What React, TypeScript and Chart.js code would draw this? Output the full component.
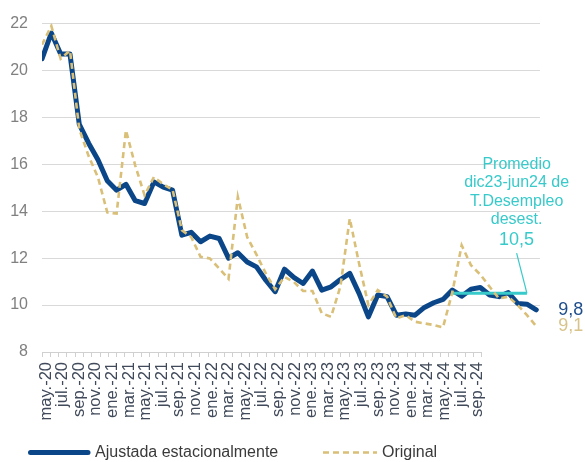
import React, { useEffect, useRef } from "react";
import { Chart, registerables } from "chart.js";

Chart.register(...registerables);

// Months of the data series (abr.-20 .. sep.-24)
const months = [
  "abr.-20", "may.-20", "jun.-20", "jul.-20", "ago.-20", "sep.-20", "oct.-20", "nov.-20", "dic.-20",
  "ene.-21", "feb.-21", "mar.-21", "abr.-21", "may.-21", "jun.-21", "jul.-21", "ago.-21", "sep.-21", "oct.-21", "nov.-21", "dic.-21",
  "ene.-22", "feb.-22", "mar.-22", "abr.-22", "may.-22", "jun.-22", "jul.-22", "ago.-22", "sep.-22", "oct.-22", "nov.-22", "dic.-22",
  "ene.-23", "feb.-23", "mar.-23", "abr.-23", "may.-23", "jun.-23", "jul.-23", "ago.-23", "sep.-23", "oct.-23", "nov.-23", "dic.-23",
  "ene.-24", "feb.-24", "mar.-24", "abr.-24", "may.-24", "jun.-24", "jul.-24", "ago.-24", "sep.-24",
];

// Ajustada estacionalmente
const ajustada = [
  20.5, 21.6, 20.7, 20.7, 17.7, 16.9, 16.2, 15.3, 14.9,
  15.15, 14.45, 14.33, 15.25, 15.03, 14.9, 12.98, 13.1, 12.7, 12.94, 12.84, 12.0,
  12.23, 11.84, 11.63, 11.06, 10.57, 11.53, 11.18, 10.92, 11.45, 10.64, 10.78, 11.09,
  11.35, 10.5, 9.5, 10.43, 10.36, 9.57, 9.62, 9.57, 9.9, 10.1, 10.24, 10.64,
  10.38, 10.68, 10.75, 10.43, 10.36, 10.53, 10.07, 10.04, 9.8,
];

// Original
const original = [
  21.1, 21.9, 20.5, 20.85, 17.5, 16.35, 15.45, 13.95, 13.9,
  17.45, 15.95, 14.68, 15.46, 15.15, 14.92, 13.19, 12.9, 12.06, 11.99, 11.56, 11.12,
  14.61, 12.9, 12.15, 11.35, 10.67, 11.2, 10.99, 10.6, 10.6, 9.65, 9.5, 10.8,
  13.69, 11.77, 10.0, 10.64, 10.36, 9.43, 9.57, 9.29, 9.22, 9.15, 9.05, 10.55,
  12.55, 11.7, 11.3, 10.78, 10.28, 10.36, 10.0, 9.57, 9.1,
];

// Promedio dic23-jun24 (desestacionalizada)
const promedioValor = 10.5;
const promedioDesde = "dic.-23";
const promedioHasta = "ago.-24";
const promedioTexto = ["Promedio", "dic23-jun24 de", "T.Desempleo", "desest."];
const promedioEtiqueta = "10,5";

// Category axis tick labels (every two months)
const tickLabels = [
  "may.-20", "jul.-20", "sep.-20", "nov.-20", "ene.-21", "mar.-21", "may.-21", "jul.-21", "sep.-21",
  "nov.-21", "ene.-22", "mar.-22", "may.-22", "jul.-22", "sep.-22", "nov.-22", "ene.-23", "mar.-23",
  "may.-23", "jul.-23", "sep.-23", "nov.-23", "ene.-24", "mar.-24", "may.-24", "jul.-24", "sep.-24",
];

const yTicks = [8, 10, 12, 14, 16, 18, 20, 22];

const serieNames = ["Ajustada estacionalmente", "Original"];

const FONT = "'Liberation Sans', Arial, sans-serif";
const BLUE = "#0b4788";
const GOLD = "#d9bf78";
const TEAL = "#38caca";

const AXIS_SLOTS = 60;
const AXIS_USED = tickLabels.length * 2 - 1; // 53 categories labelled

export default function App() {
  const ref = useRef<HTMLCanvasElement | null>(null);

  useEffect(() => {
    if (!ref.current) return;
    Chart.defaults.font.family = FONT;

    const axisLabels: string[] = [];
    for (let k = 0; k < AXIS_SLOTS; k++) {
      axisLabels.push(k % 2 === 0 && k / 2 < tickLabels.length ? tickLabels[k / 2] : "");
    }

    const toPts = (arr: number[]) => arr.map((v, i) => ({ x: i, y: v }));
    const i0 = months.indexOf(promedioDesde);
    const i1 = months.indexOf(promedioHasta);
    const avgPts: { x: number; y: number }[] = [];
    for (let i = i0; i <= i1; i++) avgPts.push({ x: i, y: promedioValor });

    const overlay = {
      id: "overlay",
      beforeDatasetsDraw(chart: any) {
        const { ctx, chartArea } = chart;
        const x2 = chart.scales.x2;
        const half = (x2.getPixelForValue(1) - x2.getPixelForValue(0)) / 2;
        const end = x2.getPixelForValue(AXIS_USED - 1) + half;
        ctx.save();
        ctx.strokeStyle = "#d0d0d0";
        ctx.lineWidth = 1;
        ctx.beginPath();
        ctx.moveTo(chartArea.left, Math.round(chartArea.bottom) + 0.5);
        ctx.lineTo(end, Math.round(chartArea.bottom) + 0.5);
        ctx.stroke();
        ctx.restore();
      },
      afterDatasetsDraw(chart: any) {
        const { ctx } = chart;
        const x = chart.scales.x;
        const y = chart.scales.y;
        ctx.save();
        // annotation text
        const cx = x.getPixelForValue(months.length - 3) - 1;
        const yLabel = y.getPixelForValue(12.77);
        ctx.fillStyle = TEAL;
        ctx.textAlign = "center";
        ctx.textBaseline = "middle";
        ctx.font = `18px ${FONT}`;
        ctx.fillText(promedioEtiqueta, cx, yLabel);
        ctx.font = `16px ${FONT}`;
        const n = promedioTexto.length;
        for (let k = 0; k < n; k++) {
          const yy = yLabel - 20.5 - 18.3 * (n - 1 - k);
          ctx.fillText(promedioTexto[k], cx, yy);
        }
        // leader line
        ctx.strokeStyle = TEAL;
        ctx.lineWidth = 1.2;
        ctx.beginPath();
        ctx.moveTo(cx, yLabel + 13);
        ctx.lineTo(x.getPixelForValue(i1), y.getPixelForValue(promedioValor));
        ctx.stroke();
        // end labels
        const last = months.length - 1;
        const lx = x.getPixelForValue(last) + 22;
        ctx.textAlign = "left";
        ctx.font = `18px ${FONT}`;
        ctx.fillStyle = "#1f4e8c";
        ctx.fillText(String(ajustada[last]).replace(".", ","), lx, y.getPixelForValue(ajustada[last]));
        ctx.fillStyle = "#d8c38a";
        ctx.fillText(String(original[last]).replace(".", ","), lx, y.getPixelForValue(original[last]));
        ctx.restore();
      },
      afterDraw(chart: any) {
        // legend
        const { ctx } = chart;
        const ds = chart.data.datasets;
        const ly = chart.height - 9.5;
        ctx.save();
        ctx.textBaseline = "middle";
        ctx.textAlign = "left";
        ctx.font = `16px ${FONT}`;
        ctx.fillStyle = "#3a3a3a";
        // item 1
        ctx.strokeStyle = ds[0].borderColor;
        ctx.lineWidth = ds[0].borderWidth;
        ctx.lineCap = "round";
        ctx.setLineDash([]);
        ctx.beginPath();
        ctx.moveTo(30.5, ly);
        ctx.lineTo(88, ly);
        ctx.stroke();
        ctx.fillText(ds[0].label, 95, ly);
        // item 2
        ctx.strokeStyle = ds[1].borderColor;
        ctx.lineWidth = ds[1].borderWidth;
        ctx.lineCap = "butt";
        ctx.setLineDash(ds[1].borderDash);
        ctx.beginPath();
        ctx.moveTo(323, ly);
        ctx.lineTo(377, ly);
        ctx.stroke();
        ctx.setLineDash([]);
        ctx.fillText(ds[1].label, 382, ly);
        ctx.restore();
      },
    };

    const chart = new Chart(ref.current, {
      type: "line",
      data: {
        datasets: [
          {
            label: serieNames[0],
            data: toPts(ajustada),
            borderColor: BLUE,
            borderWidth: 5,
            pointRadius: 0,
            tension: 0,
            borderJoinStyle: "round",
            borderCapStyle: "round",
            order: 3,
            xAxisID: "x",
          },
          {
            label: serieNames[1],
            data: toPts(original),
            borderColor: GOLD,
            borderWidth: 2.6,
            borderDash: [6, 4],
            pointRadius: 0,
            tension: 0,
            order: 1,
            xAxisID: "x",
          },
          {
            label: "Promedio",
            data: avgPts,
            borderColor: TEAL,
            borderWidth: 3,
            pointRadius: 0,
            tension: 0,
            order: 2,
            xAxisID: "x",
          },
        ],
      } as any,
      options: {
        animation: false,
        responsive: true,
        maintainAspectRatio: false,
        parsing: false as any,
        layout: { padding: { top: 23, right: 45, bottom: 0, left: 0 } },
        scales: {
          x: {
            type: "linear",
            display: false,
            min: 0,
            max: 53.4,
          },
          x2: {
            type: "category",
            labels: axisLabels,
            position: "bottom",
            offset: true,
            grid: {
              drawOnChartArea: false,
              tickLength: 5,
              offset: true,
              color: (c: any) => (c.index <= AXIS_USED ? "#d0d0d0" : "rgba(0,0,0,0)"),
            },
            border: { display: false },
            ticks: {
              autoSkip: false,
              minRotation: 90,
              maxRotation: 90,
              padding: 5,
              color: "#404a5a",
              font: { size: 16.5, family: FONT },
            },
            afterFit: (s: any) => {
              s.height = 110;
            },
          } as any,
          y: {
            min: yTicks[0],
            max: yTicks[yTicks.length - 1],
            afterBuildTicks: (s: any) => {
              s.ticks = yTicks.map((v) => ({ value: v }));
            },
            grid: {
              drawTicks: false,
              color: (c: any) => (c.tick && c.tick.value === yTicks[0] ? "rgba(0,0,0,0)" : "#d9d9d9"),
            },
            border: { display: false },
            ticks: {
              padding: 14,
              color: "#808080",
              font: { size: 16, family: FONT },
            },
            afterFit: (s: any) => {
              s.width = 42;
            },
          },
        },
        plugins: {
          tooltip: { enabled: false },
          legend: { display: false },
        },
      } as any,
      plugins: [overlay],
    });

    return () => chart.destroy();
  }, []);

  return (
    <div style={{ position: "fixed", left: 0, top: 0, width: 585, height: 462, background: "#fff" }}>
      <canvas ref={ref} />
    </div>
  );
}
